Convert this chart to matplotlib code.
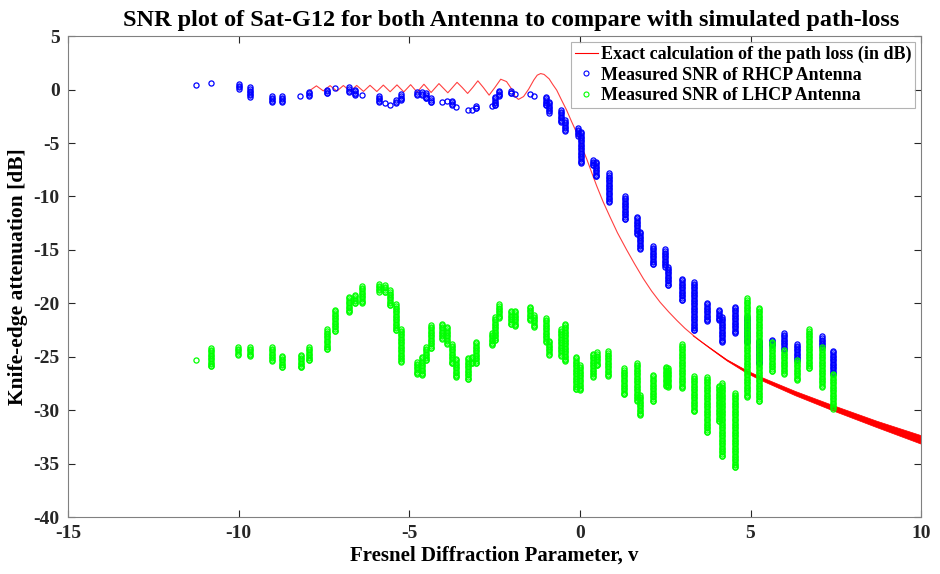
import numpy as np
import matplotlib
matplotlib.use("Agg")
import matplotlib.pyplot as plt
from matplotlib.lines import Line2D

plt.rcParams['font.family'] = ['Liberation Serif', 'DejaVu Serif']
plt.rcParams['font.weight'] = 'bold'

# ---------------- data ----------------
# Exact knife-edge path loss curve
red_v = [-7.92, -7.72, -7.52, -7.32, -7.12, -6.93, -6.73, -6.54, -6.34, -6.15,
         -5.95, -5.76, -5.56, -5.36, -5.16, -4.96, -4.77, -4.57, -4.36, -4.13,
         -3.87, -3.60, -3.45, -3.29, -3.14, -2.99, -2.83, -2.66, -2.49, -2.32,
         -2.15, -2.00, -1.90, -1.80, -1.65, -1.50, -1.35, -1.25, -1.15, -1.05,
         -0.90, -0.80, -0.68, -0.55, -0.39, -0.25, -0.10, 0.05, 0.20, 0.35,
         0.49, 0.68, 0.88, 1.10, 1.37, 1.60, 1.86, 2.10, 2.35, 2.60,
         2.84, 3.08, 3.32, 3.56, 3.81, 4.05, 4.30, 4.60, 4.89, 5.28,
         5.80, 6.30, 6.85, 7.43, 8.00, 8.70, 9.35, 10.0]
red_db = [-0.10, 0.35, -0.12, 0.37, -0.14, 0.38, -0.16, 0.39, -0.17, 0.40,
          -0.18, 0.42, -0.20, 0.44, -0.22, 0.46, -0.24, 0.50, -0.27, 0.56,
          -0.30, 0.68, 0.20, -0.36, 0.20, 0.82, 0.20, -0.52, 0.20, 0.97,
          0.75, 0.05, -0.65, -0.92, -0.65, 0.05, 0.90, 1.35, 1.50, 1.42,
          1.00, 0.50, -0.05, -0.90, -1.92, -2.95, -4.00, -5.30, -6.50, -7.80,
          -9.00, -10.5, -11.9, -13.4, -15.0, -16.3, -17.7, -18.85, -19.9, -20.8,
          -21.6, -22.35, -23.0, -23.6, -24.2, -24.75, -25.3, -25.85, -26.4, -27.0,
          -27.7, -28.4, -29.1, -29.8, -30.45, -31.3, -32.05, -32.75]
# thickened tail of the red curve (upper / lower edge)
tail_v = [3.3, 4.3, 4.89, 5.28, 6.3, 7.43, 8.7, 10.0]
tail_up = [-23.0, -25.25, -26.28, -26.85, -28.2, -29.55, -31.0, -32.35]
tail_lo = [-23.0, -25.35, -26.52, -27.15, -28.6, -30.05, -31.6, -33.15]

# RHCP measured SNR: clusters (v, top dB, bottom dB)
rhcp_v = [-11.24, -10.8, -10.0, -9.67, -9.02, -8.72, -8.19, -7.94, -7.41, -7.19,
          -6.77, -6.58, -6.38, -5.89, -5.72, -5.55, -5.4, -5.24, -4.77, -4.62,
          -4.5, -4.35, -4.03, -3.89, -3.76, -3.64, -3.29, -3.17, -3.05, -2.58,
          -2.49, -2.38, -2.02, -1.91, -1.47, -1.35, -1.0, -0.91, -0.54, -0.44,
          -0.05, 0.02, 0.39, 0.47, 0.85, 1.31, 1.68, 1.76, 2.14, 2.5,
          2.59, 2.98, 3.34, 3.71, 4.08, 4.17, 4.54, 4.9, 5.26, 5.64,
          5.99, 6.35, 7.09, 7.43]
rhcp_top = [0.42, 0.58, 0.5, 0.2, -0.6, -0.6, -0.58, -0.2, 0.0, 0.17,
            0.2, 0.0, -0.5, -0.6, -1.3, -1.4, -1.0, -0.45, -0.27, -0.27,
            -0.36, -0.83, -1.14, -1.05, -1.05, -1.6, -1.92, -1.92, -1.55, -1.5,
            -0.67, -0.1, -0.14, -0.45, -0.42, -0.6, -0.67, -1.14, -1.92, -2.86,
            -3.6, -3.95, -6.6, -6.75, -7.85, -9.97, -11.9, -13.3, -14.65, -14.96,
            -16.6, -17.7, -18.0, -19.96, -20.6, -21.3, -20.3, -21.3, -23.5, -23.4,
            -22.8, -23.8, -23.1, -24.45]
rhcp_bot = [0.42, 0.58, 0.1, -0.67, -1.15, -1.15, -0.58, -0.58, -0.35, 0.17,
            -0.2, -0.5, -0.5, -1.15, -1.3, -1.4, -1.25, -1.0, -0.5, -0.5,
            -0.83, -1.2, -1.14, -1.05, -1.4, -1.6, -1.92, -1.92, -1.76, -1.5,
            -1.45, -0.6, -0.36, -0.45, -0.42, -0.6, -1.45, -2.17, -3.0, -3.86,
            -4.3, -6.9, -7.1, -8.1, -10.5, -12.15, -13.5, -14.9, -16.3, -16.6,
            -18.3, -19.7, -22.5, -21.7, -21.6, -23.6, -22.8, -23.6, -25.6, -23.9,
            -24.4, -25.3, -24.1, -26.6]

# LHCP measured SNR: clusters (v, top dB, bottom dB)
lhcp_v = [-11.24, -10.8, -10.01, -9.67, -9.01, -8.72, -8.18, -7.94, -7.41, -7.19,
          -6.77, -6.58, -6.38, -5.89, -5.72, -5.55, -5.4, -5.24, -4.77, -4.62,
          -4.5, -4.35, -4.03, -3.89, -3.76, -3.64, -3.29, -3.17, -3.05, -2.58,
          -2.49, -2.38, -2.02, -1.91, -1.47, -1.35, -1.0, -0.91, -0.54, -0.44,
          -0.1, 0.01, 0.39, 0.49, 0.83, 1.3, 1.66, 1.76, 2.13, 2.51,
          2.59, 2.98, 3.34, 3.71, 4.08, 4.16, 4.55, 4.9, 5.26, 5.64,
          5.99, 6.35, 6.72, 7.09, 7.43]
lhcp_top = [-25.3, -24.2, -24.1, -24.1, -24.1, -24.9, -24.8, -24.1, -22.45, -20.6,
            -19.4, -19.2, -18.4, -18.2, -18.3, -18.8, -20.1, -22.4, -25.5, -25.0,
            -24.1, -22.05, -21.9, -22.2, -23.8, -25.2, -25.1, -25.0, -23.6, -22.8,
            -21.3, -20.1, -20.7, -20.7, -20.3, -21.1, -21.4, -23.5, -22.4, -21.9,
            -25.0, -25.8, -24.7, -24.6, -24.5, -26.1, -25.6, -28.6, -26.7, -25.95,
            -26.1, -23.8, -26.8, -26.9, -27.7, -27.5, -28.4, -19.55, -20.4, -23.6,
            -24.4, -25.3, -22.45, -24.1, -26.6]
lhcp_bot = [-25.3, -25.9, -24.8, -24.9, -25.4, -26.0, -26.0, -25.3, -24.3, -22.6,
            -20.8, -20.0, -20.0, -18.9, -18.9, -20.2, -22.5, -25.5, -26.6, -26.7,
            -25.3, -24.2, -23.3, -23.8, -25.6, -26.9, -27.1, -25.6, -25.6, -23.9,
            -23.45, -21.4, -21.9, -22.1, -21.6, -22.2, -23.6, -24.8, -24.9, -25.4,
            -28.0, -28.1, -26.9, -25.8, -26.8, -28.5, -29.1, -30.5, -29.1, -27.7,
            -27.8, -27.9, -30.1, -32.0, -31.0, -34.3, -35.3, -28.8, -29.1, -26.3,
            -26.6, -27.2, -26.1, -27.8, -29.85]

xticks = [-15, -10, -5, 0, 5, 10]
yticks = [5, 0, -5, -10, -15, -20, -25, -30, -35, -40]


def expand(vs, tops, bots, step=0.15):
    xs, ys = [], []
    for v, t, b in zip(vs, tops, bots):
        vals = np.arange(t, b - 1e-9, -step) if t > b else np.array([t])
        if len(vals) and vals[-1] != b:
            vals = np.append(vals, b)
        xs.extend([v] * len(vals))
        ys.extend(vals)
    return np.array(xs), np.array(ys)


fig = plt.figure(figsize=(9.4, 5.74), dpi=100)
ax = fig.add_axes([0.0723, 0.0993, 0.9077, 0.8377])

ax.plot(red_v, red_db, color='red', lw=0.8, alpha=0.75, zorder=2)
ax.fill_between(tail_v, tail_up, tail_lo, color='red', lw=0.5, zorder=2)

MS = 3.7
MEW = 0.9
bx, by = expand(rhcp_v, rhcp_top, rhcp_bot)
gx, gy = expand(lhcp_v, lhcp_top, lhcp_bot)
ax.plot(bx, by, linestyle='none', marker='o', ms=MS, mfc='none',
        mec='blue', mew=MEW, zorder=3)
ax.plot(gx, gy, linestyle='none', marker='o', ms=MS, mfc='none',
        mec=(0, 1, 0), mew=MEW, zorder=4)

ax.set_xlim(-15, 10)
ax.set_ylim(-40, 5)
ax.set_xticks(xticks)
ax.set_yticks(yticks)
ax.set_xticklabels([str(t) for t in xticks])
ax.set_yticklabels([str(t) for t in yticks])
ax.tick_params(direction='in', top=True, right=True, length=5, width=0.8,
               colors='#262626', labelsize=14, labelcolor='#262626', pad=6)
for lab in ax.get_xticklabels() + ax.get_yticklabels():
    lab.set_fontweight('bold')
for s in ax.spines.values():
    s.set_color('#808080')
    s.set_linewidth(0.8)

ttl = ax.set_title('SNR plot of Sat-G12 for both Antenna to compare with simulated path-loss',
                   fontsize=17.5, fontweight='bold', pad=7)
ttl.set_x(0.52)
ax.set_xlabel('Fresnel Diffraction Parameter, v', fontsize=15, fontweight='bold',
              labelpad=2)
ax.set_ylabel('Knife-edge attenuation [dB]', fontsize=15.5, fontweight='bold',
              labelpad=4)

handles = [Line2D([], [], color='red', lw=0.8),
           Line2D([], [], linestyle='none', marker='o', ms=3.6, mfc='none',
                  mec='blue', mew=0.8),
           Line2D([], [], linestyle='none', marker='o', ms=3.6, mfc='none',
                  mec=(0, 1, 0), mew=0.8)]
labels = ['Exact calculation of the path loss (in dB)',
          'Measured SNR of RHCP Antenna',
          'Measured SNR of LHCP Antenna']
leg = ax.legend(handles, labels, loc='upper right',
                prop={'weight': 'bold', 'size': 13}, frameon=True,
                fancybox=False, edgecolor='#a0a0a0', borderpad=0.2,
                labelspacing=0.18, handlelength=1.3, handletextpad=0.15,
                borderaxespad=0.35)
leg.get_frame().set_linewidth(0.8)

fig.savefig('out.png', dpi=100)
